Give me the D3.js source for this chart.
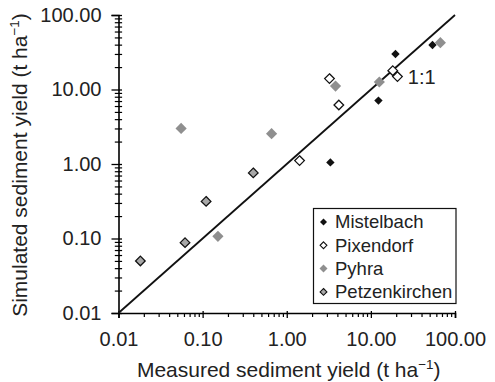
<!DOCTYPE html>
<html>
<head>
<meta charset="utf-8">
<script src="https://cdn.jsdelivr.net/npm/d3@7/dist/d3.min.js"></script>
<style>
  html, body { margin: 0; padding: 0; background: #fff; }
  svg { display: block; font-family: "Liberation Sans", Arial, Helvetica, sans-serif; }
</style>
</head>
<body>
<svg id="chart" width="495" height="382"></svg>
<script>
// Measured vs simulated sediment yield (t/ha) per catchment
const mistelbachMeasured = [54, 19.6, 12.3, 3.3];
const mistelbachSimulated = [39.6, 30, 7.1, 1.05];

const pixendorfMeasured = [3.22, 4.16, 18.2, 20.7, 1.42];
const pixendorfSimulated = [14.0, 6.2, 17.9, 14.9, 1.11];

const pyhraMeasured = [67, 12.6, 3.8, 0.0555, 0.66, 0.152];
const pyhraSimulated = [42.5, 12.6, 11.1, 3.0, 2.55, 0.107];

const petzenkirchenMeasured = [0.0182, 0.0618, 0.11, 0.40];
const petzenkirchenSimulated = [0.05, 0.088, 0.315, 0.76];

const majorTicks = [0.01, 0.1, 1, 10, 100];
const seriesNames = ["Mistelbach", "Pixendorf", "Pyhra", "Petzenkirchen"];

const svg = d3.select("#chart");
const plotLeft = 118.5, plotRight = 455, plotTop = 15, plotBottom = 313;

const x = d3.scaleLog().domain([0.01, 100]).range([plotLeft, plotRight]);
const y = d3.scaleLog().domain([0.01, 100]).range([plotBottom, plotTop]);

// minor ticks 2..9 in each decade
const minorTicks = [];
for (let e = -2; e < 2; e++) {
  for (let m = 2; m <= 9; m++) minorTicks.push(m * Math.pow(10, e));
}
const fmt = d3.format(".2f");
const tickFont = 20;
const titleFont = 21;
const legendFont = 18.5;

// x axis
const gx = svg.append("g").attr("transform", `translate(0,${plotBottom})`);
gx.call(d3.axisBottom(x).tickValues(majorTicks).tickFormat(fmt).tickSize(5).tickPadding(14));
gx.select(".domain").attr("stroke", "#000").attr("stroke-width", 1.6);
gx.selectAll(".tick line").attr("stroke", "#000").attr("stroke-width", 1.3).attr("y1", -2);
gx.selectAll(".tick text").attr("font-size", tickFont).attr("fill", "#222")
  .attr("font-family", "Liberation Sans, Arial, sans-serif");
const gxm = svg.append("g").attr("transform", `translate(0,${plotBottom})`);
gxm.call(d3.axisBottom(x).tickValues(minorTicks).tickFormat("").tickSize(4));
gxm.select(".domain").remove();
gxm.selectAll(".tick line").attr("stroke", "#000").attr("stroke-width", 1.2);

// y axis (ticks cross the axis line)
const gy = svg.append("g").attr("transform", `translate(${plotLeft},0)`);
gy.call(d3.axisLeft(y).tickValues(majorTicks).tickFormat(fmt).tickSize(7).tickPadding(10));
gy.select(".domain").attr("stroke", "#000").attr("stroke-width", 1.6);
gy.selectAll(".tick line").attr("stroke", "#000").attr("stroke-width", 1.3).attr("x1", 3.5);
gy.selectAll(".tick text").attr("font-size", tickFont).attr("fill", "#222")
  .attr("font-family", "Liberation Sans, Arial, sans-serif");
const gym = svg.append("g").attr("transform", `translate(${plotLeft},0)`);
gym.call(d3.axisLeft(y).tickValues(minorTicks).tickFormat("").tickSize(3.7));
gym.select(".domain").remove();
gym.selectAll(".tick line").attr("stroke", "#000").attr("stroke-width", 1.2).attr("x1", 3.6);

// 1:1 line
svg.append("line")
  .attr("x1", x(0.01)).attr("y1", y(0.01))
  .attr("x2", x(100)).attr("y2", y(100))
  .attr("stroke", "#111").attr("stroke-width", 1.8);
svg.append("text")
  .attr("x", x(27.5)).attr("y", y(14.5)).attr("dy", "0.35em")
  .attr("font-size", 20).attr("fill", "#222").text("1:1");

// marker styles
const styles = {
  Mistelbach:    { r: 4.2, fill: "#111", stroke: "none", sw: 0 },
  Pixendorf:     { r: 4.8, fill: "#fff", stroke: "#111", sw: 1.3 },
  Pyhra:         { r: 5.6, fill: "#8f8f8f", stroke: "none", sw: 0 },
  Petzenkirchen: { r: 4.8, fill: "#a8a8a8", stroke: "#111", sw: 1.3 }
};
const diamond = r => `M0,${-r}L${r},0L0,${r}L${-r},0Z`;

const series = [
  { name: "Mistelbach", xs: mistelbachMeasured, ys: mistelbachSimulated },
  { name: "Pixendorf", xs: pixendorfMeasured, ys: pixendorfSimulated },
  { name: "Pyhra", xs: pyhraMeasured, ys: pyhraSimulated },
  { name: "Petzenkirchen", xs: petzenkirchenMeasured, ys: petzenkirchenSimulated }
];

series.forEach(s => {
  const st = styles[s.name];
  svg.append("g").selectAll("path")
    .data(s.xs.map((v, i) => [v, s.ys[i]]))
    .join("path")
    .attr("transform", d => `translate(${x(d[0])},${y(d[1])})`)
    .attr("d", diamond(st.r))
    .attr("fill", st.fill)
    .attr("stroke", st.stroke)
    .attr("stroke-width", st.sw);
});

// legend
const lg = svg.append("g");
lg.append("rect").attr("x", 313.5).attr("y", 208.5).attr("width", 142.5).attr("height", 95)
  .attr("fill", "#fff").attr("stroke", "#111").attr("stroke-width", 1.2);
seriesNames.forEach((name, i) => {
  const st = styles[name];
  const cy = 222 + i * 23.3;
  const r = name === "Pyhra" ? 4 : (name === "Mistelbach" ? 3.5 : 3.4);
  lg.append("path")
    .attr("transform", `translate(323.5,${cy})`)
    .attr("d", diamond(r))
    .attr("fill", st.fill).attr("stroke", st.stroke).attr("stroke-width", st.sw ? 1.1 : 0);
  lg.append("text").attr("x", 335).attr("y", cy).attr("dy", "0.35em")
    .attr("font-size", legendFont).attr("fill", "#222").text(name);
});

// axis titles
const xt = svg.append("text")
  .attr("x", (plotLeft + plotRight) / 2 + 2).attr("y", 377)
  .attr("text-anchor", "middle").attr("font-size", titleFont).attr("fill", "#222");
xt.append("tspan").text("Measured sediment yield (t ha");
xt.append("tspan").attr("font-size", 13.5).attr("dy", -8).text("\u22121");
xt.append("tspan").attr("dy", 8).text(")");

const yt = svg.append("text")
  .attr("transform", `translate(27,${(plotTop + plotBottom) / 2 + 1}) rotate(-90)`)
  .attr("text-anchor", "middle").attr("font-size", titleFont).attr("fill", "#222");
yt.append("tspan").text("Simulated sediment yield (t ha");
yt.append("tspan").attr("font-size", 13.5).attr("dy", -8).text("\u22121");
yt.append("tspan").attr("dy", 8).text(")");
</script>
</body>
</html>
